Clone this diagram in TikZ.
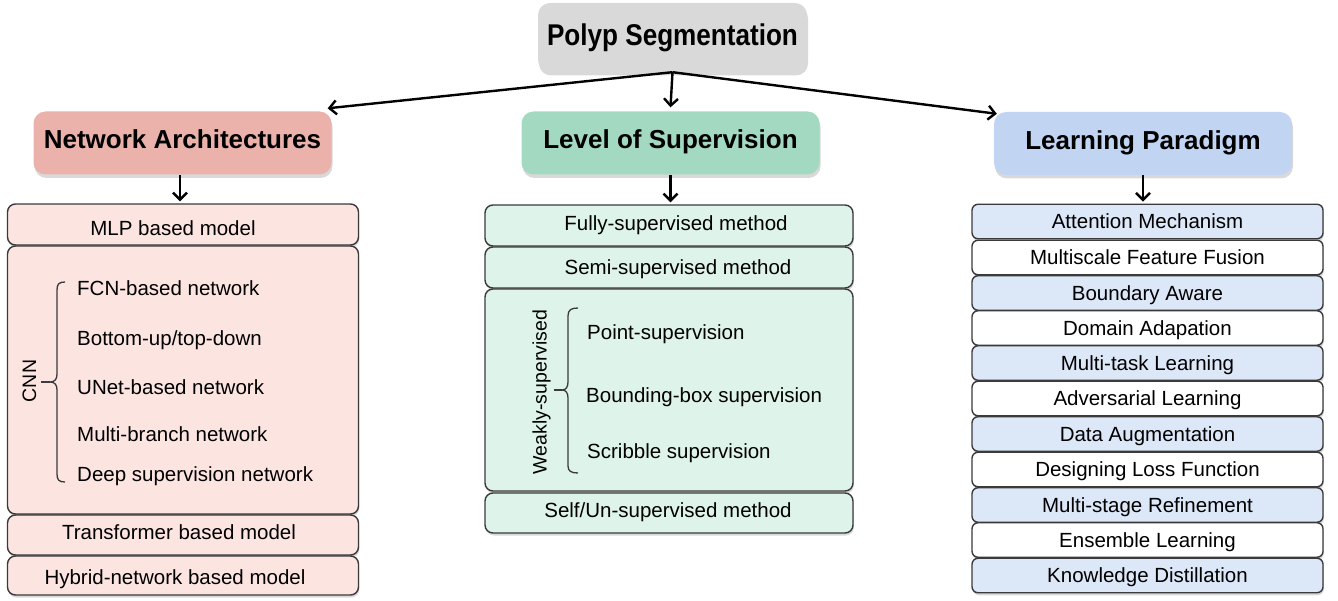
\documentclass[tikz,border=0pt]{standalone}
\usepackage{fontspec}
\setmainfont{Liberation Sans}
\newfontfamily\narrowfont[FakeStretch=0.87]{Liberation Sans}
\usetikzlibrary{shadows,arrows.meta}
\definecolor{polypgray}{HTML}{D9D9D9}
\definecolor{hdrred}{HTML}{EAB2AB}
\definecolor{hdrgreen}{HTML}{A3D9C1}
\definecolor{hdrblue}{HTML}{C1D5F3}
\definecolor{lstred}{HTML}{FCE5E1}
\definecolor{lstgreen}{HTML}{DEF3EA}
\definecolor{lstblue}{HTML}{DCE7F8}
\definecolor{edgegray}{HTML}{3A3A3A}
\begin{document}
\begin{tikzpicture}[x=1pt,y=-1pt,
  hdr/.style={rounded corners=12pt, minimum width=298pt, minimum height=63pt, inner sep=0pt,
    font=\fontsize{26}{30}\selectfont\bfseries, text height=18.6pt, text depth=6.6pt,
    drop shadow={shadow xshift=1pt,shadow yshift=-3.5pt,opacity=0.3}},
  lstbox/.style={draw=edgegray, line width=1.4pt, rounded corners=8pt, inner sep=0pt,
    drop shadow={shadow xshift=0.8pt,shadow yshift=-2.5pt,opacity=0.3}},
  rbox/.style={lstbox, rounded corners=6pt, minimum width=351pt, minimum height=34.5pt,
    font=\fontsize{20.5}{24}\selectfont, text height=14.7pt, text depth=0pt},
  txt/.style={inner sep=0pt, font=\fontsize{20.5}{24}\selectfont},
  rottxt/.style={inner sep=0pt, font=\fontsize{19.5}{23}\selectfont, rotate=90},
  arr/.style={-{Straight Barb[length=7pt,width=14pt]}, line width=2.4pt},
  bracepath/.style={line width=1.3pt, draw=edgegray}
]
\useasboundingbox (0,0) rectangle (1338,601);

% top node
\node[hdr, fill=polypgray, minimum width=269pt, minimum height=69pt,
  font=\fontsize{30}{34}\narrowfont\bfseries, text height=21.5pt, text depth=4.5pt]
  (polyp) at (672.5,37.5) {Polyp Segmentation};

% headers
\node[hdr, fill=hdrred] (na) at (182.5,143) {Network Architectures};
\node[hdr, fill=hdrgreen] (los) at (670.5,143) {Level of Supervision};
\node[hdr, fill=hdrblue] (lp) at (1143,143.5) {Learning Paradigm};

% arrows from top
\draw[arr] (polyp.south) -- ([xshift=-4pt,yshift=3pt]na.north east);
\draw[arr] (polyp.south) -- ([yshift=4pt]los.north);
\draw[arr] (polyp.south) -- ([xshift=3pt,yshift=-2pt]lp.north west);

% left column
\node[lstbox, fill=lstred, minimum width=351pt, minimum height=41pt] (mlp) at (183,224.5) {};
\node[lstbox, fill=lstred, minimum width=351pt, minimum height=268pt] (cnn) at (183,380) {};
\node[lstbox, fill=lstred, minimum width=351pt, minimum height=40pt] (trans) at (183,535) {};
\node[lstbox, fill=lstred, minimum width=351pt, minimum height=39pt] (hyb) at (183,575.5) {};

\node[txt, anchor=base] (tmlp) at (173,236) {MLP based model};
\node[txt, anchor=base west] (tfcn) at (77,296) {FCN-based network};
\node[txt, anchor=base west] (tbot) at (77,345) {Bottom-up/top-down};
\node[txt, anchor=base west] (tune) at (77,394) {UNet-based network};
\node[txt, anchor=base west] (tmul) at (77,441) {Multi-branch network};
\node[txt, anchor=base west] (tdee) at (77,481) {Deep supervision network};
\node[txt, anchor=base] (ttra) at (179,539) {Transformer based model};
\node[txt, anchor=base] (thyb) at (175,584) {Hybrid-network based model};
\node[rottxt] (tcnn) at (29.5,381) {CNN};
\draw[bracepath] (65,282) .. controls (59,282) and (57,284) .. (57,290) -- (57,374)
  .. controls (57,379) and (55,382) .. (50,382)
  .. controls (55,382) and (57,385) .. (57,390) -- (57,474)
  .. controls (57,480) and (59,482) .. (65,482);
\draw[bracepath] (41,382) -- (50,382);

% middle column
\node[lstbox, fill=lstgreen, minimum width=368pt, minimum height=41pt] (full) at (669,225.5) {};
\node[lstbox, fill=lstgreen, minimum width=368pt, minimum height=41pt] (semi) at (669,267.5) {};
\node[lstbox, fill=lstgreen, minimum width=368pt, minimum height=202pt] (weak) at (669,390) {};
\node[lstbox, fill=lstgreen, minimum width=368pt, minimum height=40pt] (self) at (669,513) {};

\node[txt, anchor=base] (tfull) at (676,231) {Fully-supervised method};
\node[txt, anchor=base] (tsemi) at (678,275) {Semi-supervised method};
\node[txt, anchor=base west] (tpoi) at (587,340) {Point-supervision};
\node[txt, anchor=base west] (tbou) at (586,402) {Bounding-box supervision};
\node[txt, anchor=base west] (tscr) at (587,458) {Scribble supervision};
\node[txt, anchor=base] (tself) at (668,517) {Self/Un-supervised method};
\node[rottxt] (tweak) at (541.5,392) {Weakly-supervised};
\draw[bracepath] (578,308) .. controls (571,308) and (568,310) .. (568,316) -- (568,382)
  .. controls (568,387) and (566,390) .. (562,390)
  .. controls (566,390) and (568,393) .. (568,398) -- (568,466)
  .. controls (568,471) and (571,473) .. (578,473);
\draw[bracepath] (554,390) -- (562,390);

% right column
\node[rbox, fill=lstblue] (r1) at (1147.5,221.5) {Attention Mechanism};
\node[rbox, fill=white] (r2) at (1147.5,257.5) {Multiscale Feature Fusion};
\node[rbox, fill=lstblue] (r3) at (1147.5,293) {Boundary Aware};
\node[rbox, fill=white] (r4) at (1147.5,328) {Domain Adapation};
\node[rbox, fill=lstblue] (r5) at (1147.5,363) {Multi-task Learning};
\node[rbox, fill=white] (r6) at (1147.5,398.5) {Adversarial Learning};
\node[rbox, fill=lstblue] (r7) at (1147.5,434) {Data Augmentation};
\node[rbox, fill=white] (r8) at (1147.5,469.5) {Designing Loss Function};
\node[rbox, fill=lstblue] (r9) at (1147.5,505) {Multi-stage Refinement};
\node[rbox, fill=white] (r10) at (1147.5,540) {Ensemble Learning};
\node[rbox, fill=lstblue] (r11) at (1147.5,575.5) {Knowledge Distillation};

% arrows header -> list
\coordinate (naA) at ([xshift=-2.5pt]na.south);
\draw[arr, shorten >=2pt] (naA) -- (naA |- mlp.north);
\draw[arr, shorten >=2pt] (los.south) -- (los.south |- full.north);
\draw[arr, shorten >=2pt] (lp.south) -- (lp.south |- r1.north);
\end{tikzpicture}
\end{document}
